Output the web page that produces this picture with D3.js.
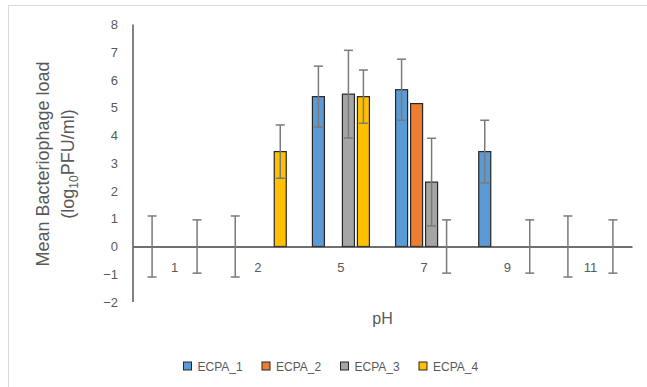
<!DOCTYPE html>
<html>
<head>
<meta charset="utf-8">
<script src="https://cdn.jsdelivr.net/npm/d3@7"></script>
<style>
  html, body { margin: 0; padding: 0; background: #fff; }
  svg { display: block; font-family: "Liberation Sans", Arial, sans-serif; }
</style>
</head>
<body>
<svg id="chart" width="647" height="387"></svg>
<script>
// pH levels tested
const categories = ["1", "2", "5", "7", "9", "11"];
const seriesNames = ["ECPA_1", "ECPA_2", "ECPA_3", "ECPA_4"];
const seriesColors = ["#5B9BD5", "#ED7D31", "#A5A5A5", "#FFC000"];

// mean phage load (log10 PFU/ml) per pH, one array per phage
const ecpa1 = [0, 0, 5.40, 5.65, 3.42, 0];
const ecpa2 = [0, 0, 0, 5.15, 0, 0];
const ecpa3 = [0, 0, 5.49, 2.32, 0, 0];
const ecpa4 = [0, 3.42, 5.40, 0, 0, 0];

// standard deviation shown as error bars (0 = none drawn)
const err1 = [1.1, 1.1, 1.1, 1.1, 1.13, 1.1];
const err2 = [0, 0, 0, 0, 0, 0];
const err3 = [0, 0, 1.58, 1.58, 0, 0];
const err4 = [0.96, 0.96, 0.96, 0.96, 0.96, 0.96];

const yTicks = [-2, -1, 0, 1, 2, 3, 4, 5, 6, 7, 8];

const values = [ecpa1, ecpa2, ecpa3, ecpa4];
const errors = [err1, err2, err3, err4];

const rows = [];
seriesNames.forEach((s, i) => {
  categories.forEach((c, j) => {
    rows.push({ series: s, idx: i, cat: c, value: values[i][j], err: errors[i][j] });
  });
});

const svg = d3.select("#chart");

// outer chart frame
svg.append("rect")
  .attr("x", 8.5).attr("y", 5.5)
  .attr("width", 700).attr("height", 500)
  .attr("fill", "#fff")
  .attr("stroke", "#d9d9d9").attr("stroke-width", 1);

const x = d3.scaleBand().domain(categories).range([133, 632]).padding(0);
const xi = d3.scaleBand().domain(seriesNames).range([-30, 30]).paddingInner(0.2).paddingOuter(0.1);
const y = d3.scaleLinear().domain([-2, 8]).range([302, 24.5]);

// y tick labels (no gridlines, no tick marks)
const yAxis = d3.axisLeft(y).tickValues(yTicks).tickSize(0).tickPadding(15).tickFormat(d3.format("d"));
const yg = svg.append("g").attr("transform", "translate(133,0)").call(yAxis);
yg.select(".domain").remove();
yg.selectAll("text")
  .attr("font-size", 13).attr("fill", "#595959")
  .attr("font-family", "Liberation Sans, Arial, sans-serif");

// bars
const barsG = svg.append("g");
barsG.selectAll("rect")
  .data(rows.filter(d => d.value !== 0))
  .join("rect")
  .attr("x", d => x(d.cat) + x.bandwidth() / 2 + xi(d.series))
  .attr("width", xi.bandwidth())
  .attr("y", d => y(Math.max(0, d.value)))
  .attr("height", d => Math.abs(y(d.value) - y(0)))
  .attr("fill", d => seriesColors[d.idx])
  .attr("stroke", "#262626").attr("stroke-width", 1.2);

// x-axis line through zero
const xAxis = d3.axisBottom(x).tickSize(0).tickPadding(0).tickFormat("");
const xg = svg.append("g").attr("transform", `translate(0,${y(0)})`).call(xAxis);
xg.select(".domain").attr("stroke", "#404040").attr("stroke-width", 1.3);

// category labels sit just below the zero line
svg.append("g").selectAll("text")
  .data(categories)
  .join("text")
  .attr("x", d => x(d) + x.bandwidth() / 2)
  .attr("y", y(0) + 25)
  .attr("text-anchor", "middle")
  .attr("font-size", 13).attr("fill", "#595959")
  .text(d => d);

// vertical axis line
svg.append("line")
  .attr("x1", 133).attr("x2", 133)
  .attr("y1", y(8)).attr("y2", y(-2))
  .attr("stroke", "#404040").attr("stroke-width", 1.3);

// error bars
const capW = 9;
const eg = svg.append("g").attr("stroke", "#7a7a7a").attr("stroke-width", 1.5).attr("fill", "none");
const errRows = rows.filter(d => d.err > 0);
errRows.forEach(d => {
  const cx = x(d.cat) + x.bandwidth() / 2 + xi(d.series) + xi.bandwidth() / 2;
  const top = y(d.value + d.err), bot = y(d.value - d.err);
  eg.append("line").attr("x1", cx).attr("x2", cx).attr("y1", top).attr("y2", bot);
  eg.append("line").attr("x1", cx - capW / 2).attr("x2", cx + capW / 2).attr("y1", top).attr("y2", top);
  eg.append("line").attr("x1", cx - capW / 2).attr("x2", cx + capW / 2).attr("y1", bot).attr("y2", bot);
});

// axis titles
svg.append("text")
  .attr("x", 382.5).attr("y", 324)
  .attr("text-anchor", "middle")
  .attr("font-size", 16).attr("fill", "#595959")
  .text("pH");

const yt = svg.append("text")
  .attr("transform", "translate(48.5,164) rotate(-90)")
  .attr("text-anchor", "middle")
  .attr("font-size", 18).attr("fill", "#595959");
yt.append("tspan").attr("x", 0).attr("y", 0).text("Mean Bacteriophage load");
const l2 = svg.append("text")
  .attr("transform", "translate(73.5,164) rotate(-90)")
  .attr("text-anchor", "middle")
  .attr("font-size", 18).attr("fill", "#595959");
l2.append("tspan").text("(log");
l2.append("tspan").attr("font-size", 12).attr("dy", 4).text("10");
l2.append("tspan").attr("dy", -4).text("PFU/ml)");

// legend
const lg = svg.append("g");
const item = lg.selectAll("g")
  .data(seriesNames)
  .join("g")
  .attr("transform", (d, i) => `translate(${183.5 + i * 78.5},362)`);
item.append("rect")
  .attr("width", 8).attr("height", 8)
  .attr("fill", (d, i) => seriesColors[i])
  .attr("stroke", "#262626").attr("stroke-width", 1);
item.append("text")
  .attr("x", 14).attr("y", 8.5)
  .attr("font-size", 12).attr("fill", "#595959")
  .text(d => d);
</script>
</body>
</html>
